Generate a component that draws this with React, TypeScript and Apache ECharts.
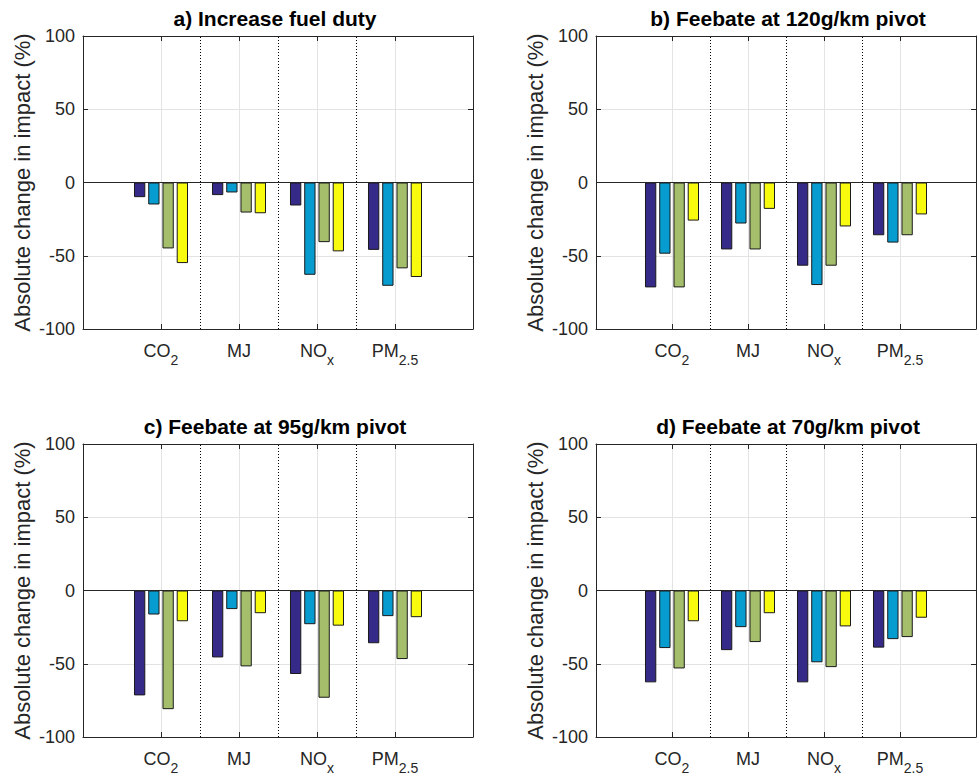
import React, { useEffect, useRef } from 'react';
import * as echarts from 'echarts';

// ---------- data ----------
const categories = ['CO2', 'MJ', 'NOx', 'PM2.5'];
const categoryLabels = ['{n|CO}{s|2}', '{n|MJ}', '{n|NO}{s|x}', '{n|PM}{s|2.5}'];
const categoryPositions = [1, 2, 3, 4];
const separatorPositions = [1.5, 2.5, 3.5];
const seriesNames = ['Series 1', 'Series 2', 'Series 3', 'Series 4'];
const panelTitles = [
  'a) Increase fuel duty',
  'b) Feebate at 120g/km pivot',
  'c) Feebate at 95g/km pivot',
  'd) Feebate at 70g/km pivot',
];
const yAxisTitle = 'Absolute change in impact (%)';
const yMin = -100;
const yMax = 100;
const yInterval = 50;

// each panel: four series (dark blue, light blue, green, yellow) over CO2, MJ, NOx, PM2.5
const panelA = [
  [-10, -8.6, -15.7, -46],
  [-15, -6.8, -63, -70.5],
  [-45, -20.5, -40.7, -58.6],
  [-55, -21, -47, -64.5],
];
const panelB = [
  [-71.6, -45.7, -56.8, -36],
  [-48.6, -28, -70, -41],
  [-71.6, -45.7, -56.8, -36],
  [-26, -18, -30, -21.8],
];
const panelC = [
  [-71.6, -45.7, -57, -36],
  [-16.4, -12.7, -23, -17.5],
  [-81, -51.8, -73.2, -46.8],
  [-21, -15.5, -24, -18.2],
];
const panelD = [
  [-62.7, -40.7, -62.7, -39],
  [-39.3, -25, -49, -33.2],
  [-53.2, -35.2, -52.3, -31.8],
  [-21, -15.5, -24.5, -18.6],
];
const panels = [panelA, panelB, panelC, panelD];

// ---------- style / layout ----------
const seriesColors = ['#352a87', '#079cd0', '#a5be6b', '#f9fb0e'];
const FONT = 'Liberation Sans, Arial, Helvetica, sans-serif';
const AXIS_COLOR = '#262626';
const GRID_COLOR = '#e3e3e3';
const gridRects = [
  { left: 83, top: 36 },
  { left: 596, top: 36 },
  { left: 83, top: 444 },
  { left: 596, top: 444 },
];
const GRID_W = 390;
const GRID_H = 293;

function buildOption() {
  const grid: any[] = [];
  const xAxis: any[] = [];
  const yAxis: any[] = [];
  const series: any[] = [];
  const title: any[] = [];

  panels.forEach((panel, p) => {
    const g = gridRects[p];
    grid.push({ left: g.left, top: g.top, width: GRID_W, height: GRID_H, containLabel: false });
    title.push({
      text: panelTitles[p],
      left: g.left + GRID_W / 2 - 3,
      top: g.top - 28,
      textAlign: 'center',
      padding: 0,
      textStyle: { fontSize: 21, fontWeight: 'bold', color: '#000', fontFamily: FONT },
    });
    const lineStyle = { color: AXIS_COLOR, width: 1 };
    xAxis.push({
      gridIndex: p,
      type: 'value',
      min: 0,
      max: 5,
      interval: 1,
      position: 'bottom',
      axisLine: { show: true, onZero: false, lineStyle },
      axisTick: { show: true, inside: true, length: 5, lineStyle },
      axisLabel: {
        margin: 13,
        color: AXIS_COLOR,
        fontSize: 18,
        fontFamily: FONT,
        formatter: (v: number) => {
          const i = categoryPositions.indexOf(v);
          return i >= 0 ? categoryLabels[i] : '';
        },
        rich: {
          n: { fontSize: 18, lineHeight: 18, verticalAlign: 'top', color: AXIS_COLOR, fontFamily: FONT },
          s: { fontSize: 14, lineHeight: 14, padding: [11, 0, 0, 0], verticalAlign: 'top', color: AXIS_COLOR, fontFamily: FONT },
        },
      },
      splitLine: { show: true, lineStyle: { color: GRID_COLOR, width: 1 } },
    });
    xAxis.push({
      gridIndex: p,
      type: 'value',
      min: 0,
      max: 5,
      interval: 1,
      position: 'top',
      axisLine: { show: true, onZero: false, lineStyle },
      axisTick: { show: true, inside: true, length: 5, lineStyle },
      axisLabel: { show: false },
      splitLine: { show: false },
    });
    yAxis.push({
      gridIndex: p,
      type: 'value',
      min: yMin,
      max: yMax,
      interval: yInterval,
      position: 'left',
      name: yAxisTitle,
      nameLocation: 'middle',
      nameGap: 50,
      nameTextStyle: { fontSize: 22, color: AXIS_COLOR, fontFamily: FONT },
      axisLine: { show: true, onZero: false, lineStyle },
      axisTick: { show: true, inside: true, length: 5, lineStyle },
      axisLabel: { margin: 8, color: AXIS_COLOR, fontSize: 18, fontFamily: FONT },
      splitLine: { show: true, lineStyle: { color: GRID_COLOR, width: 1 } },
    });
    yAxis.push({
      gridIndex: p,
      type: 'value',
      min: yMin,
      max: yMax,
      interval: yInterval,
      position: 'right',
      axisLine: { show: true, onZero: false, lineStyle },
      axisTick: { show: true, inside: true, length: 5, lineStyle },
      axisLabel: { show: false },
      splitLine: { show: false },
    });

    panel.forEach((vals, s) => {
      series.push({
        type: 'bar',
        name: seriesNames[s],
        xAxisIndex: 2 * p,
        yAxisIndex: 2 * p,
        data: categoryPositions.map((x, i) => [x, vals[i]]),
        barWidth: 11.3,
        barGap: '26%',
        silent: true,
        itemStyle: { color: seriesColors[s], borderColor: '#1a1a1a', borderWidth: 1 },
        emphasis: { disabled: true },
      });
    });

    // reference lines: zero line and dotted category separators
    series.push({
      type: 'line',
      name: 'ref' + p,
      xAxisIndex: 2 * p,
      yAxisIndex: 2 * p,
      data: [],
      symbol: 'none',
      silent: true,
      z: 5,
      markLine: {
        silent: true,
        symbol: ['none', 'none'],
        label: { show: false },
        emphasis: { disabled: true },
        data: [
          { yAxis: 0, lineStyle: { color: AXIS_COLOR, type: 'solid', width: 1 } },
          ...separatorPositions.map((x) => ({
            xAxis: x,
            lineStyle: { color: '#000', type: [1, 2], width: 1 },
          })),
        ],
      },
    });
  });

  return {
    animation: false,
    backgroundColor: '#fff',
    textStyle: { fontFamily: FONT },
    title,
    grid,
    xAxis,
    yAxis,
    series,
  };
}

export default function App() {
  const ref = useRef<HTMLDivElement>(null);
  useEffect(() => {
    document.body.style.margin = '0';
    const chart = echarts.init(ref.current!, null, { renderer: 'svg' });
    chart.setOption(buildOption() as any);
    return () => chart.dispose();
  }, []);
  return <div ref={ref} style={{ width: 979, height: 780 }} />;
}
